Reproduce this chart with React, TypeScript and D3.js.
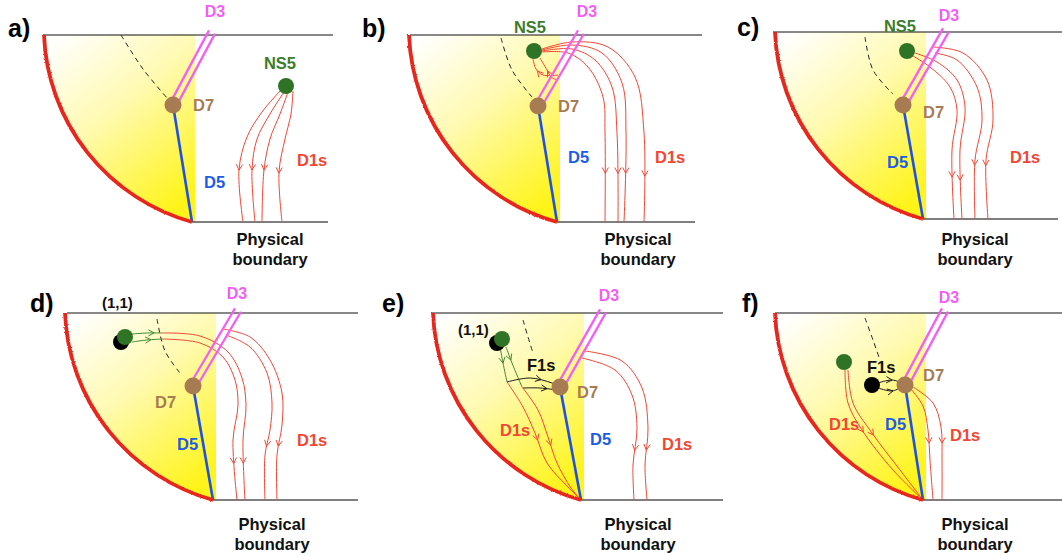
import React, { useEffect, useRef } from 'react';
import * as d3 from 'd3';

type Pt = [number, number];
interface Curve {
    p: number;              // panel index
    at: ['x' | 'y', number]; // where the arrow head sits (local coordinate)
    pts: Pt[];
}

const W = 1062;
const H = 556;

// panels, local coordinates are relative to the sector corner (D5 foot), y pointing down
const panelNames = ['a)', 'b)', 'c)', 'd)', 'e)', 'f)'];
const corners: Pt[] = [[192, 222], [557, 222], [923, 219], [213, 500], [581, 500], [923, 500]];
const letterPos: Pt[] = [[8, 37], [362, 37], [737, 36], [30, 312], [382, 312], [742, 312]];
const topSpan: Pt[] = [[-149, 141], [-147, 145], [-150, 139], [-146, 145], [-149, 142], [-148, 139]];
const bottomEnd = [136, 138, 135, 145, 142, 139];
const topY = -187;
const arcPts: Pt[] = [[-148, -187], [-92, -55], [0, 0]];

const d7Pos: Pt[] = [[-19, -117], [-19, -116], [-20, -114], [-20, -114], [-21, -113], [-18, -115]];
const d3Top: Pt[] = [[20, -190], [24, -190], [23, -189], [25, -190], [22, -189], [22, -190]];
const d3Label: Pt[] = [[23, -205], [30, -205], [26, -198], [24, -201], [28, -199], [26, -197]];
const d7Label: Pt[] = [[1, -111], [1, -110], [0, -101], [-58, -92], [-4, -102], [0, -119]];
const d5Label: Pt[] = [[12, -34], [11, -59], [-36, -51], [-36, -50], [9, -55], [-38, -70]];
const physLabel: Pt[] = [[78, 23], [81, 23], [52, 26], [59, 30], [57, 30], [52, 30]];

const dashed: Pt[][] = [
    [[-71, -187], [-49, -153], [-24, -123]],
    [[-56, -184], [-45, -152], [-25, -125]],
    [[-58, -182], [-50, -149], [-30, -125]],
    [[-56, -181], [-48, -149], [-33, -127]],
    [[-58, -180], [-53, -163], [-48, -147]],
    [[-58, -182], [-50, -160], [-43, -140]],
];

// [panel, x, y]
const greenDots: [number, number, number][] = [[0, 94, -136], [1, -23, -171], [2, -16, -168], [3, -88, -163], [4, -79, -161], [5, -79, -138]];
const blackDots: [number, number, number][] = [[3, -92, -158], [4, -84, -157], [5, -51, -115]];

// [panel, x, baseline]
const ns5Labels: [number, number, number][] = [[0, 88, -153], [1, -27, -189], [2, -23, -187]];
const d1sLabels: [number, number, number][] = [[0, 105, -56], [1, 98, -59], [2, 87, -56], [3, 84, -54], [4, -81, -64], [4, 81, -50], [5, -94, -70], [5, 27, -59]];
const f1sLabels: [number, number, number][] = [[4, -54, -129], [5, -56, -127]];
const pairLabels: [number, number, number][] = [[3, -111, -192], [4, -123, -165]];

const redCurves: Curve[] = [
    { p: 0, at: ['y', -52], pts: [[89, -132], [70, -110], [55, -85], [47, -52], [51, 0]] },
    { p: 0, at: ['y', -52], pts: [[92, -130], [78, -108], [65, -83], [60, -52], [63, 0]] },
    { p: 0, at: ['y', -52], pts: [[96, -130], [88, -108], [78, -83], [72, -52], [70, 0]] },
    { p: 0, at: ['y', -49], pts: [[101, -131], [99, -108], [93, -83], [87, -50], [90, 0]] },

    { p: 1, at: ['y', -49], pts: [[-15, -170], [11, -169], [31, -155], [46, -125], [48, -89], [48, 0]] },
    { p: 1, at: ['y', -49], pts: [[-15, -171], [15, -173], [38, -162], [55, -135], [60, -89], [61, 0]] },
    { p: 1, at: ['y', -49], pts: [[-15, -172], [15, -177], [45, -169], [65, -139], [69, -89], [67, 0]] },
    { p: 1, at: ['y', -46], pts: [[-15, -173], [15, -180], [51, -175], [78, -145], [87, -89], [87, 0]] },
    { p: 1, at: ['y', -151], pts: [[1, -147], [-14, -147], [-21, -153], [-24, -163]] },
    { p: 1, at: ['y', -151], pts: [[0, -142], [-6, -145], [-10, -152], [-17, -164]] },

    { p: 2, at: ['y', -42], pts: [[-10, -163], [7, -152], [27, -132], [34, -109], [29, -69], [31, 0]] },
    { p: 2, at: ['y', -39], pts: [[-8, -166], [14, -157], [34, -139], [42, -112], [37, -69], [39, 0]] },
    { p: 2, at: ['y', -54], pts: [[12, -166], [34, -159], [54, -132], [59, -99], [52, -59], [52, 0]] },
    { p: 2, at: ['y', -54], pts: [[10, -172], [40, -166], [64, -139], [70, -99], [63, -59], [65, 0]] },

    { p: 3, at: ['y', -37], pts: [[-51, -167], [-13, -164], [15, -148], [29, -122], [33, -95], [30, -60], [32, 0]] },
    { p: 3, at: ['y', -37], pts: [[-51, -161], [-13, -157], [10, -143], [22, -120], [25, -95], [20, -60], [24, 0]] },
    { p: 3, at: ['y', -54], pts: [[10, -171], [37, -163], [57, -140], [69, -107], [69, -75], [64, -45], [64, 0]] },
    { p: 3, at: ['y', -54], pts: [[13, -165], [37, -153], [54, -127], [59, -97], [57, -70], [52, -45], [52, 0]] },

    { p: 4, at: ['y', -60], pts: [[-74, -118], [-58, -93], [-46, -67], [-34, -37], [-14, -14], [0, 0]] },
    { p: 4, at: ['y', -55], pts: [[-59, -113], [-43, -90], [-33, -63], [-24, -37], [-10, -12], [0, 0]] },
    { p: 4, at: ['y', -50], pts: [[1, -142], [34, -130], [51, -105], [56, -72], [52, -35], [53, 0]] },
    { p: 4, at: ['y', -50], pts: [[4, -149], [41, -139], [61, -112], [67, -72], [64, -35], [66, 0]] },

    { p: 5, at: ['y', -68], pts: [[-78, -130], [-75, -97], [-61, -70], [-30, -30], [0, 0]] },
    { p: 5, at: ['y', -65], pts: [[-75, -130], [-70, -97], [-51, -67], [-23, -30], [0, 0]] },
    { p: 5, at: ['y', -57], pts: [[-13, -112], [0, -94], [5, -70], [7, -40], [10, 0]] },
    { p: 5, at: ['y', -57], pts: [[-10, -113], [10, -97], [18, -73], [19, -40], [19, 0]] },
];

const greenCurves: Curve[] = [
    { p: 3, at: ['x', -59], pts: [[-81, -166], [-66, -167], [-51, -167]] },
    { p: 3, at: ['x', -62], pts: [[-81, -158], [-66, -160], [-51, -161]] },
    { p: 4, at: ['y', -137], pts: [[-81, -153], [-78, -137], [-74, -118]] },
    { p: 4, at: ['y', -140], pts: [[-75, -153], [-69, -137], [-59, -113]] },
];

const blackCurves: Curve[] = [
    { p: 4, at: ['x', -40], pts: [[-74, -118], [-51, -122], [-29, -117], [-21, -113]] },
    { p: 4, at: ['x', -34], pts: [[-58, -112], [-41, -112], [-24, -110]] },
    { p: 5, at: ['x', -31], pts: [[-45, -117], [-31, -120], [-21, -117]] },
    { p: 5, at: ['x', -30], pts: [[-45, -112], [-31, -109], [-23, -112]] },
];

const FONT = "'Liberation Sans', Arial, Helvetica, sans-serif";
const RED = '#f24634';
const GREEN = '#2f7326';
const BROWN = '#a87c52';
const MAGENTA = '#f45ef4';
const BLUE = '#1f52e2';

function circumcircle(a: Pt, b: Pt, c: Pt) {
    const d = 2 * (a[0] * (b[1] - c[1]) + b[0] * (c[1] - a[1]) + c[0] * (a[1] - b[1]));
    const a2 = a[0] * a[0] + a[1] * a[1];
    const b2 = b[0] * b[0] + b[1] * b[1];
    const c2 = c[0] * c[0] + c[1] * c[1];
    const ux = (a2 * (b[1] - c[1]) + b2 * (c[1] - a[1]) + c2 * (a[1] - b[1])) / d;
    const uy = (a2 * (c[0] - b[0]) + b2 * (a[0] - c[0]) + c2 * (b[0] - a[0])) / d;
    return { cx: ux, cy: uy, r: Math.hypot(a[0] - ux, a[1] - uy) };
}

const App: React.FC = () => {
    const ref = useRef<SVGSVGElement>(null);

    useEffect(() => {
        if (!ref.current) return;
        const svg = d3.select(ref.current);
        svg.selectAll('*').remove();

        const defs = svg.append('defs');
        const grad = defs.append('linearGradient').attr('id', 'sun')
            .attr('x1', 0.1).attr('y1', 0).attr('x2', 0.75).attr('y2', 1);
        grad.append('stop').attr('offset', 0).attr('stop-color', '#ffffff');
        grad.append('stop').attr('offset', 0.45).attr('stop-color', '#fffab0');
        grad.append('stop').attr('offset', 1).attr('stop-color', '#fff41a');

        const rough = defs.append('filter').attr('id', 'rough')
            .attr('x', '-10%').attr('y', '-10%').attr('width', '120%').attr('height', '120%');
        rough.append('feTurbulence').attr('type', 'fractalNoise').attr('baseFrequency', 1.3)
            .attr('numOctaves', 1).attr('result', 'n');
        rough.append('feDisplacementMap').attr('in', 'SourceGraphic').attr('in2', 'n').attr('scale', 2.6);

        const circ = circumcircle(arcPts[0], arcPts[1], arcPts[2]);

        panelNames.forEach((name, i) => {
            const [ox, oy] = corners[i];
            const x = d3.scaleLinear().domain([0, 100]).range([ox, ox + 100]);
            const y = d3.scaleLinear().domain([0, 100]).range([oy, oy + 100]);
            const g = svg.append('g');
            const curve = d3.line<Pt>().x(d => x(d[0])).y(d => y(d[1])).curve(d3.curveCatmullRom.alpha(0.5));
            const straight = d3.line<Pt>().x(d => x(d[0])).y(d => y(d[1]));

            const a0 = Math.atan2(arcPts[0][1] - circ.cy, arcPts[0][0] - circ.cx);
            const a1 = Math.atan2(arcPts[2][1] - circ.cy, arcPts[2][0] - circ.cx);

            // yellow sector
            const sp = d3.path();
            sp.moveTo(x(arcPts[0][0]), y(arcPts[0][1]));
            sp.arc(x(circ.cx), y(circ.cy), circ.r, a0, a1, true);
            sp.lineTo(x(3), y(0));
            sp.lineTo(x(3), y(topY));
            sp.closePath();
            g.append('path').attr('d', sp.toString()).attr('fill', 'url(#sun)');

            // top and bottom boundaries
            g.append('path').attr('d', straight([[topSpan[i][0], topY], [topSpan[i][1], topY]]))
                .attr('stroke', '#111').attr('stroke-width', 1).attr('fill', 'none');
            g.append('path').attr('d', straight([[0, 0], [bottomEnd[i], 0]]))
                .attr('stroke', '#555').attr('stroke-width', 1.3).attr('fill', 'none');

            // dashed curve
            g.append('path').attr('d', curve(dashed[i]))
                .attr('stroke', '#222').attr('stroke-width', 1).attr('stroke-dasharray', '5,4').attr('fill', 'none');

            const drawCurves = (list: Curve[], color: string) => {
                list.filter(c => c.p === i).forEach(c => {
                    const path = g.append('path').attr('d', curve(c.pts))
                        .attr('stroke', color).attr('stroke-width', 1).attr('fill', 'none');
                    const node = path.node() as SVGPathElement;
                    const len = node.getTotalLength();
                    const target = c.at[0] === 'x' ? x(c.at[1]) : y(c.at[1]);
                    const n = 400;
                    let prev = node.getPointAtLength(0);
                    for (let k = 1; k <= n; k++) {
                        const p = node.getPointAtLength((len * k) / n);
                        const va = (c.at[0] === 'x' ? prev.x : prev.y) - target;
                        const vb = (c.at[0] === 'x' ? p.x : p.y) - target;
                        if (va * vb <= 0) {
                            const q = node.getPointAtLength(Math.min(len, (len * (k + 2)) / n));
                            let dx = q.x - prev.x, dy = q.y - prev.y;
                            const m = Math.hypot(dx, dy) || 1;
                            dx /= m; dy /= m;
                            const L = 6.5, th = 0.5;
                            const arm = (s: number): [number, number] => {
                                const c1 = Math.cos(s * th), s1 = Math.sin(s * th);
                                const rx = dx * c1 - dy * s1, ry = dx * s1 + dy * c1;
                                return [p.x - rx * L, p.y - ry * L];
                            };
                            g.append('path')
                                .attr('d', d3.line()([arm(1), [p.x, p.y], arm(-1)]))
                                .attr('stroke', color).attr('stroke-width', 1).attr('fill', 'none');
                            break;
                        }
                        prev = p;
                    }
                });
            };
            drawCurves(redCurves, RED);
            drawCurves(greenCurves, '#3d8a31');
            drawCurves(blackCurves, '#1a1a1a');

            // D3 double line
            const [dx7, dy7] = d7Pos[i];
            const [tx, ty] = d3Top[i];
            const len = Math.hypot(tx - dx7, ty - dy7);
            const nx = -(ty - dy7) / len, ny = (tx - dx7) / len;
            [-3.4, 3.4].forEach(o => {
                g.append('path').attr('d', straight([[dx7 + nx * o, dy7 + ny * o], [tx + nx * o, ty + ny * o]]))
                    .attr('stroke', MAGENTA).attr('stroke-width', 2.3).attr('fill', 'none');
            });

            // D5
            g.append('path').attr('d', straight([[dx7, dy7], [0, 0]]))
                .attr('stroke', BLUE).attr('stroke-width', 2.6).attr('fill', 'none');

            // red rough arc
            const ap = d3.path();
            ap.moveTo(x(arcPts[0][0]), y(arcPts[0][1]));
            ap.arc(x(circ.cx), y(circ.cy), circ.r, a0, a1, true);
            g.append('path').attr('d', ap.toString()).attr('stroke', '#e8261c')
                .attr('stroke-width', 3.8).attr('fill', 'none').attr('filter', 'url(#rough)');

            // dots
            blackDots.filter(d => d[0] === i).forEach(d => {
                g.append('circle').attr('cx', x(d[1])).attr('cy', y(d[2])).attr('r', 8).attr('fill', '#000');
            });
            greenDots.filter(d => d[0] === i).forEach(d => {
                g.append('circle').attr('cx', x(d[1])).attr('cy', y(d[2])).attr('r', 8).attr('fill', GREEN);
            });
            g.append('circle').attr('cx', x(dx7)).attr('cy', y(dy7)).attr('r', 8.5).attr('fill', BROWN);

            // labels
            const label = (t: string, lx: number, ly: number, color: string, size: number, anchor = 'start') =>
                g.append('text').attr('x', x(lx)).attr('y', y(ly)).text(t)
                    .attr('fill', color).attr('font-size', size).attr('font-weight', 'bold')
                    .attr('font-family', FONT).attr('text-anchor', anchor);

            label('D3', d3Label[i][0], d3Label[i][1], MAGENTA, 16, 'middle');
            label('D7', d7Label[i][0], d7Label[i][1], BROWN, 16.5);
            label('D5', d5Label[i][0], d5Label[i][1], '#1d5ce5', 16.5);
            ns5Labels.filter(d => d[0] === i).forEach(d => label('NS5', d[1], d[2], '#3b7d2a', 16.5, 'middle'));
            d1sLabels.filter(d => d[0] === i).forEach(d => label('D1s', d[1], d[2], RED, 16.5));
            f1sLabels.filter(d => d[0] === i).forEach(d => label('F1s', d[1], d[2], '#111', 16.5));
            pairLabels.filter(d => d[0] === i).forEach(d => label('(1,1)', d[1], d[2], '#111', 15));
            label('Physical', physLabel[i][0], physLabel[i][1], '#111', 16.5, 'middle');
            label('boundary', physLabel[i][0], physLabel[i][1] + 20, '#111', 16.5, 'middle');

            svg.append('text').attr('x', letterPos[i][0]).attr('y', letterPos[i][1]).text(name)
                .attr('font-size', 25).attr('font-weight', 'bold').attr('font-family', FONT).attr('fill', '#000');
        });
    }, []);

    return (
        <svg ref={ref} width={W} height={H}
            style={{ position: 'absolute', left: 0, top: 0, background: '#fff' }} />
    );
};

export default App;
